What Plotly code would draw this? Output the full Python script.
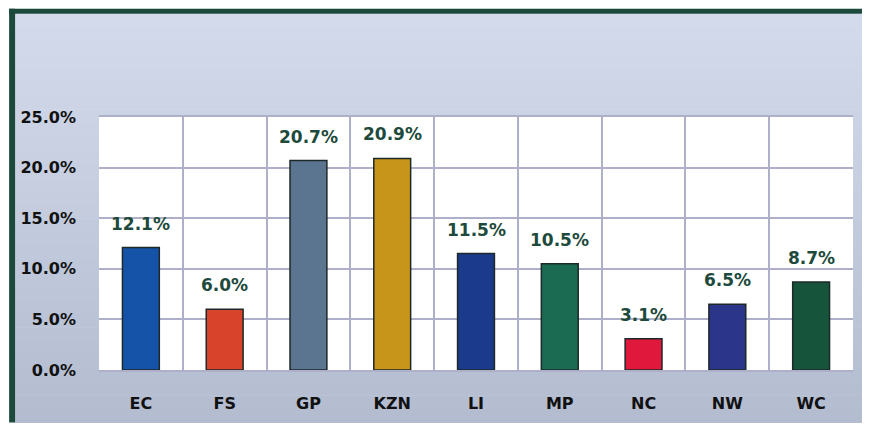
import plotly.graph_objects as go

# ---- data ----
provinces = ["EC", "FS", "GP", "KZN", "LI", "MP", "NC", "NW", "WC"]
shares = [12.1, 6.0, 20.7, 20.9, 11.5, 10.5, 3.1, 6.5, 8.7]
bar_colors = ["#1553a8", "#d8432b", "#5b7590", "#c8951b", "#1b3a8c",
              "#1b6a52", "#e0193c", "#2b3589", "#16553b"]
y_ticks = [0, 5, 10, 15, 20, 25]
y_tick_text = ["0.0%", "5.0%", "10.0%", "15.0%", "20.0%", "25.0%"]

# page has an 8px body margin: figure drawn at page (8, 8)
OFF = 8
W, H = 862, 417
L, R, T, B = 90, 17, 109, 53
pw, ph = W - L - R, H - T - B


def px_x(p):  # p in page pixels
    return (p - OFF - L) / pw


def px_y(p):
    return (H - B - (p - OFF)) / ph


fig = go.Figure()
fig.add_trace(go.Bar(
    x=provinces, y=shares,
    marker=dict(color=bar_colors, line=dict(color="#1e2828", width=1.5)),
    hoverinfo="skip",
))

# data labels
for cat, val in zip(provinces, shares):
    fig.add_annotation(x=cat, y=val, text=f"{val:.1f}%", showarrow=False,
                       yanchor="middle", yshift=24,
                       font=dict(family="DejaVu Sans", size=17, color="#1d4a3c",
                                 weight="bold"))

# background gradient bands (chart-area frame)
n = 30
top_rgb = (0xd2, 0xda, 0xeb)
bot_rgb = (0xb4, 0xbc, 0xd0)
y0p, y1p = 13, 425
shapes = []
for i in range(n):
    t = i / (n - 1)
    c = tuple(round(top_rgb[k] + (bot_rgb[k] - top_rgb[k]) * t) for k in range(3))
    a = y0p + (y1p - y0p) * i / n
    b = y0p + (y1p - y0p) * (i + 1) / n + 0.5
    shapes.append(dict(type="rect", xref="paper", yref="paper",
                       x0=px_x(14), x1=px_x(862), y0=px_y(b), y1=px_y(a),
                       fillcolor="rgb(%d,%d,%d)" % c, line=dict(width=0),
                       layer="below"))
# white plot area
shapes.append(dict(type="rect", xref="paper", yref="paper",
                   x0=0, x1=1, y0=0, y1=1,
                   fillcolor="white", line=dict(width=0), layer="below"))
# dark frame lines (left and top)
shapes.append(dict(type="rect", xref="paper", yref="paper",
                   x0=px_x(8), x1=px_x(14), y0=px_y(425), y1=px_y(8),
                   fillcolor="#1b4a3d", line=dict(width=0), layer="below"))
shapes.append(dict(type="rect", xref="paper", yref="paper",
                   x0=px_x(8), x1=px_x(862), y0=px_y(13), y1=px_y(8),
                   fillcolor="#1b4a3d", line=dict(width=0), layer="below"))

fig.update_layout(
    width=W, height=H,
    margin=dict(l=L, r=R, t=T, b=B, pad=0),
    paper_bgcolor="white",
    plot_bgcolor="white",
    bargap=0.56,
    showlegend=False,
    shapes=shapes,
    xaxis=dict(
        type="category", tickson="boundaries", ticks="",
        showgrid=True, gridcolor="#adb0c8", gridwidth=1.5,
        showline=True, linecolor="#adb0c8", linewidth=1.5, mirror=True,
        tickfont=dict(family="DejaVu Sans", size=16, color="#111111", weight="bold"),
        ticklabelstandoff=18,
    ),
    yaxis=dict(
        range=[0, 25], tickvals=y_ticks, ticktext=y_tick_text,
        showgrid=True, gridcolor="#adb0c8", gridwidth=1.5, zeroline=False,
        showline=False, ticks="",
        tickfont=dict(family="DejaVu Sans", size=16, color="#111111", weight="bold"),
        ticklabelstandoff=22,
    ),
)

fig.write_html("out.html")
